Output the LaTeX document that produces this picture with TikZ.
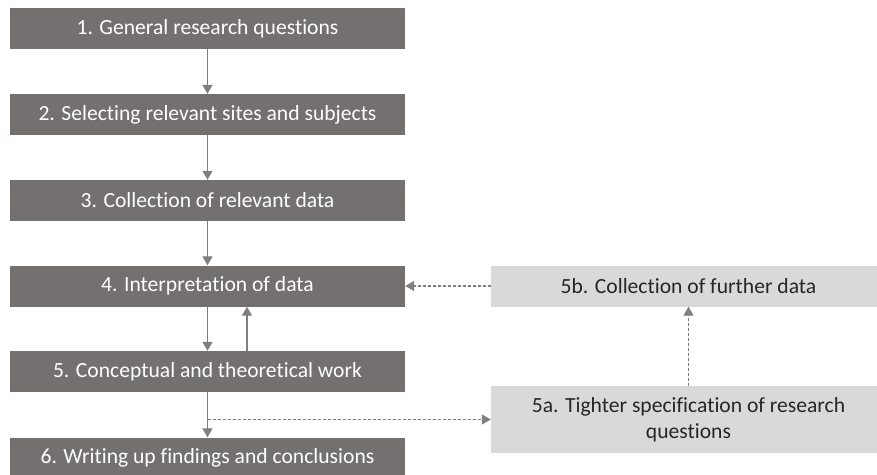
\documentclass[tikz,border=0pt]{standalone}
\usepackage{fontspec}
\setmainfont{Carlito}[Ligatures={NoCommon}]
\usetikzlibrary{arrows.meta}
\definecolor{darkbox}{HTML}{757070}
\definecolor{lightbox}{HTML}{D9D9D9}
\definecolor{arrowc}{HTML}{7F7F7F}
\definecolor{lighttext}{HTML}{262626}
\begin{document}
\begin{tikzpicture}[x=1pt,y=-1pt,
  darkstep/.style={fill=darkbox, text=white, minimum width=395pt, minimum height=41pt, inner sep=0pt, font=\fontsize{21.6}{26}\selectfont},
  lightstep/.style={fill=lightbox, text=lighttext, minimum width=395pt, inner sep=0pt, align=center, font=\fontsize{21.6}{26}\selectfont},
  conn/.style={draw=arrowc, line width=1.3pt, -{Triangle[length=9pt,width=10pt]}, fill=arrowc},
  dconn/.style={conn, dashed, dash pattern=on 3pt off 2pt}]
\useasboundingbox (0,0) rectangle (877,474);
\node[darkstep] (s1) at (207.5,28.5) {1. General research questions};
\node[darkstep] (s2) at (207.5,114.5) {2. Selecting relevant sites and subjects};
\node[darkstep] (s3) at (207.5,200.5) {3. Collection of relevant data};
\node[darkstep] (s4) at (207.5,286) {4. Interpretation of data};
\node[darkstep] (s5) at (207.5,371.5) {5. Conceptual and theoretical work};
\node[darkstep] (s6) at (207.5,458) {6. Writing up findings and conclusions};
\node[lightstep, minimum height=41pt] (s5b) at (688.5,286) {5b. Collection of further data};
\node[lightstep, minimum height=67pt] (s5a) at (688.5,419.5) {5a. Tighter specification of research\\questions};
\draw[conn] (s1.south) -- (s2.north);
\draw[conn] (s2.south) -- (s3.north);
\draw[conn] (s3.south) -- (s4.north);
\draw[conn] (s4.south) -- (s5.north);
\draw[conn] ([xshift=39.5pt]s5.north) -- ([xshift=39.5pt]s4.south);
\draw[conn] (s5.south) -- (s6.north);
\coordinate (branch) at (s5.south |- s5a.west);
\draw[dconn] (branch) -- (s5a.west);
\draw[dconn] (s5a.north) -- (s5b.south);
\draw[dconn] (s5b.west) -- (s4.east);
\end{tikzpicture}
\end{document}
